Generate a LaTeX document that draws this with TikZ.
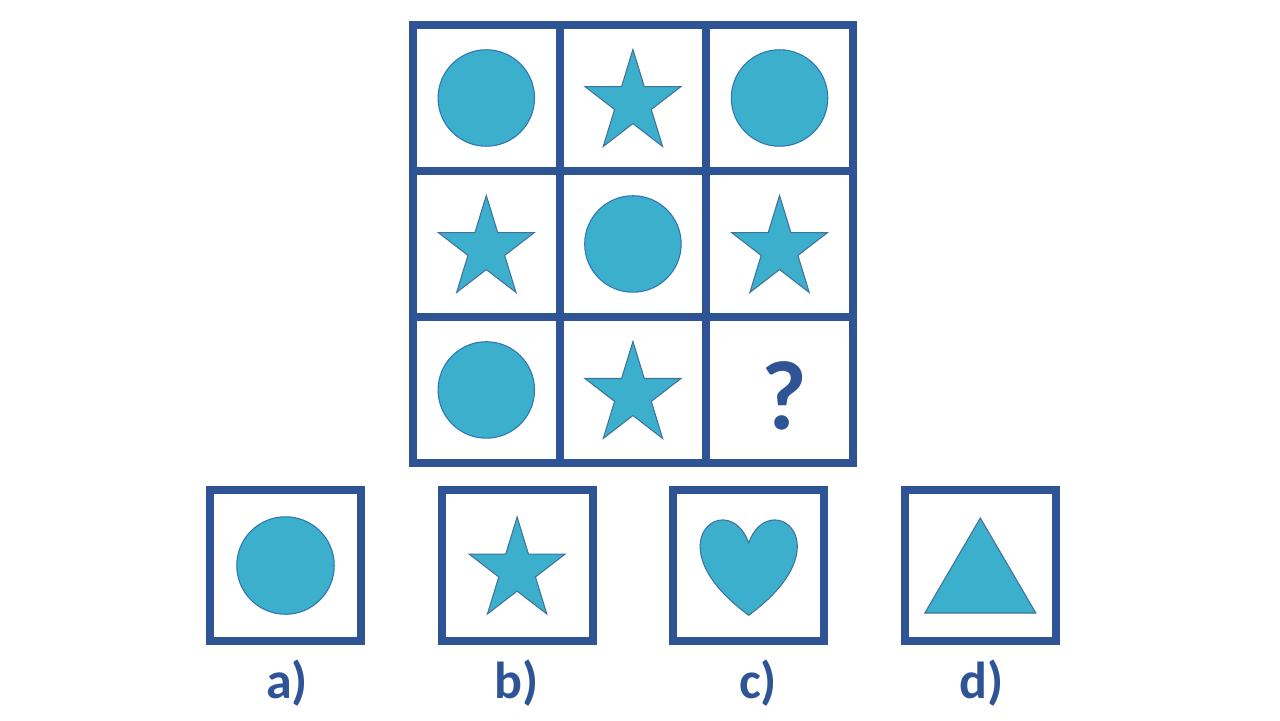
\documentclass[tikz,border=0pt]{standalone}
\usepackage{fontspec}
\setmainfont{Carlito}
\usepackage{tikz}
\usetikzlibrary{positioning}

\definecolor{gridblue}{RGB}{47,84,150}
\definecolor{tealfill}{RGB}{59,175,204}
\definecolor{discedge}{RGB}{46,117,182}
\definecolor{figedge}{RGB}{65,113,156}

\tikzset{
  pics/puzzlestar/.style={code={
    \draw[figure, x=1.01cm, y=1.072cm, shift={(0,-.0955)}]
      (90:1) -- (126:.382) -- (162:1) -- (198:.382) -- (234:1) -- (270:.382)
      -- (306:1) -- (342:.382) -- (18:1) -- (54:.382) -- cycle;
  }}
}

\begin{document}
\begin{tikzpicture}[x=0.02cm, y=-0.02cm,
  cell/.style={draw=gridblue, line width=4.55pt, minimum width=2.933cm, minimum height=2.92cm, inner sep=0pt, outer sep=0pt},
  optbox/.style={draw=gridblue, line width=4.55pt, minimum size=3.02cm, inner sep=0pt, outer sep=0pt},
  figure/.style={fill=tealfill, draw=figedge, line width=.6pt},
  disc/.style={circle, fill=tealfill, draw=discedge, line width=.6pt, minimum size=1.93cm, inner sep=0pt},
  lbl/.style={text=gridblue, font=\bfseries\fontsize{29.6}{34}\selectfont, anchor=base, inner sep=0pt},
  qmark/.style={text=gridblue, font=\bfseries\fontsize{56}{60}\selectfont, anchor=base, inner sep=0pt}]
\useasboundingbox (0,0) rectangle (1280,720);

% the 3x3 grid
\node[cell] (c11) at (486.3,98) {};
\node[cell, right=0pt of c11] (c12) {};
\node[cell, right=0pt of c12] (c13) {};
\node[cell, below=0pt of c11] (c21) {};
\node[cell, right=0pt of c21] (c22) {};
\node[cell, right=0pt of c22] (c23) {};
\node[cell, below=0pt of c21] (c31) {};
\node[cell, right=0pt of c31] (c32) {};
\node[cell, right=0pt of c32] (c33) {};

\node[disc] (s11) at (c11) {};
\pic (s12) at (c12) {puzzlestar};
\node[disc] (s13) at (c13) {};
\pic (s21) at (c21) {puzzlestar};
\node[disc] (s22) at (c22) {};
\pic (s23) at (c23) {puzzlestar};
\node[disc] (s31) at (c31) {};
\pic (s32) at (c32) {puzzlestar};
\node[qmark] (q) at (784.5,429) {?};

% answer options
\node[optbox] (oa) at (285.5,565.5) {};
\node[optbox, right=1.613cm of oa] (ob) {};
\node[optbox, right=1.613cm of ob] (oc) {};
\node[optbox, right=1.613cm of oc] (od) {};

\node[disc, minimum size=1.95cm] (fa) at (oa) {};
\pic (fb) at (ob) {puzzlestar};
\draw[figure, shift={(oc)}, yshift=-.03cm, x=1.93cm, y=1.93cm]
  (0,.25) .. controls (.2083,.8333) and (1.0208,.25) .. (0,-.5)
  .. controls (-1.0208,.25) and (-.2083,.8333) .. (0,.25) -- cycle;
\draw[figure, shift={(od)}] (0,-47.5) -- (55.5,47.5) -- (-55.5,47.5) -- cycle;

\node[lbl] (la) at (287,698) {a)};
\node[lbl] (lb) at (517,698) {b)};
\node[lbl] (lc) at (758,698) {c)};
\node[lbl] (ld) at (981.5,698) {d)};
\end{tikzpicture}
\end{document}
